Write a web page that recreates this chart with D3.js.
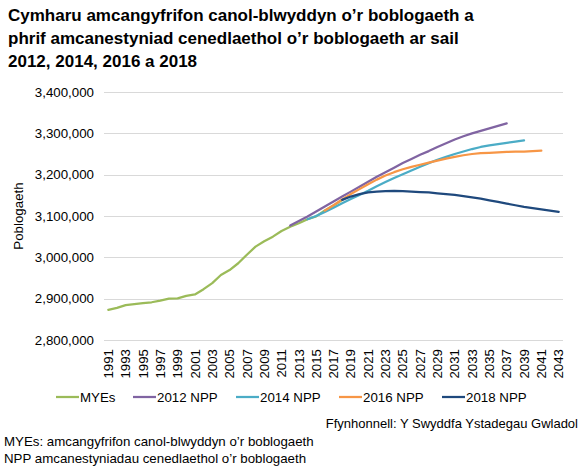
<!DOCTYPE html>
<html>
<head>
  <meta charset="utf-8">
  <title>Cymharu amcangyfrifon a amcanestyniadau poblogaeth</title>
  <script src="https://d3js.org/d3.v7.min.js"></script>
  <style>
    body {
      margin: 0;
      background: #fff;
      font-family: "Liberation Sans", Arial, sans-serif;
    }
    svg text {
      fill: #000;
    }
    .grid line {
      stroke: #d9d9d9;
      stroke-width: 1;
    }
  </style>
</head>
<body>
  <div id="chart"></div>

  <script>
    // years on the category axis
    const years = d3.range(1991, 2044);

    // mid-year estimates, from 1991
    const myeStart = 1991;
    const myeValues = [
      2873000, 2877700, 2884400, 2886800, 2889400, 2891300, 2895200, 2900100,
      2900600, 2906900, 2910200, 2922900, 2937600, 2957200, 2969300, 2985700,
      3006300, 3025900, 3038900, 3050000, 3063800, 3074100, 3082400, 3092000,
      3099100, 3113200, 3125200, 3138600
    ];

    // 2012-based projection, 2012 to 2037
    const npp2012Start = 2012;
    const npp2012Values = [
      3077000, 3088000, 3099000, 3111000, 3123000, 3135000, 3147000, 3159000,
      3171000, 3183000, 3195000, 3206000, 3217000, 3228000, 3238000, 3248000,
      3257000, 3267000, 3276000, 3285000, 3293000, 3300000, 3306000, 3312000,
      3318000, 3324000
    ];

    // 2014-based projection, 2014 to 2039
    const npp2014Start = 2014;
    const npp2014Values = [
      3092000, 3100000, 3110000, 3120000, 3131000, 3141000, 3151000, 3161000,
      3172000, 3182000, 3192000, 3201000, 3210000, 3219000, 3228000, 3236000,
      3243000, 3250000, 3256000, 3262000, 3267000, 3271000, 3274000, 3277000,
      3280000, 3283000
    ];

    // 2016-based projection, 2016 to 2041
    const npp2016Start = 2016;
    const npp2016Values = [
      3113000, 3126000, 3140000, 3153000, 3165000, 3177000, 3188000, 3198000,
      3206000, 3213000, 3219000, 3224000, 3229000, 3234000, 3239000, 3243000,
      3247000, 3250000, 3252000, 3253000, 3254000, 3255000, 3256000, 3256000,
      3257000, 3258000
    ];

    // 2018-based projection, 2018 to 2043
    const npp2018Start = 2018;
    const npp2018Values = [
      3139000, 3147000, 3153000, 3157000, 3159000, 3160000, 3161000, 3160000,
      3159000, 3158000, 3157000, 3155000, 3153000, 3151000, 3148000, 3145000,
      3142000, 3138000, 3134000, 3130000, 3126000, 3122000, 3119000, 3116000,
      3113000, 3110000
    ];

    const seriesNames = ["MYEs", "2012 NPP", "2014 NPP", "2016 NPP", "2018 NPP"];
    const seriesColors = ["#9bbb59", "#8064a2", "#4bacc6", "#f79646", "#1f497d"];
    const yTicks = [2800000, 2900000, 3000000, 3100000, 3200000, 3300000, 3400000];
    const titleLines = [
      "Cymharu amcangyfrifon canol-blwyddyn o\u2019r boblogaeth a",
      "phrif amcanestyniad cenedlaethol o\u2019r boblogaeth ar sail",
      "2012, 2014, 2016 a 2018"
    ];
    const footnotes = [
      "MYEs: amcangyfrifon canol-blwyddyn o\u2019r boblogaeth",
      "NPP amcanestyniadau cenedlaethol o\u2019r boblogaeth"
    ];

    const series = [
      [myeStart, myeValues],
      [npp2012Start, npp2012Values],
      [npp2014Start, npp2014Values],
      [npp2016Start, npp2016Values],
      [npp2018Start, npp2018Values]
    ].map(([start, vals], i) => ({
      name: seriesNames[i],
      color: seriesColors[i],
      points: vals.map((v, j) => ({ year: start + j, value: v }))
    }));

    const width = 584;
    const height = 471;
    const margin = { top: 92, right: 21, bottom: 131, left: 104 };

    const svg = d3.select("#chart")
      .append("svg")
      .attr("width", width)
      .attr("height", height)
      .style("font-family", '"Liberation Sans", Arial, sans-serif');

    const x = d3.scaleBand()
      .domain(years)
      .range([margin.left, width - margin.right])
      .padding(0);

    const y = d3.scaleLinear()
      .domain([2800000, 3400000])
      .range([height - margin.bottom, margin.top]);

    // title
    svg.append("text")
      .attr("font-weight", "bold")
      .style("font-size", "17px")
      .selectAll("tspan")
      .data(titleLines)
      .join("tspan")
      .attr("x", 8)
      .attr("y", (d, i) => 21 + i * 23)
      .text(d => d);

    // gridlines
    svg.append("g")
      .attr("class", "grid")
      .selectAll("line")
      .data(yTicks)
      .join("line")
      .attr("x1", margin.left)
      .attr("x2", width - margin.right)
      .attr("y1", d => Math.round(y(d)) + 0.5)
      .attr("y2", d => Math.round(y(d)) + 0.5);

    // y axis
    const yAxis = svg.append("g")
      .attr("transform", `translate(${margin.left - 10},0)`)
      .call(d3.axisLeft(y).tickValues(yTicks).tickSize(0).tickPadding(0)
        .tickFormat(d3.format(",")));
    yAxis.select(".domain").remove();
    yAxis.selectAll("text")
      .style("font-size", "13.3px")
      .style("font-family", '"Liberation Sans", Arial, sans-serif')
      .attr("fill", "#000");

    svg.append("text")
      .attr("transform", `translate(23,${(margin.top + height - margin.bottom) / 2}) rotate(-90)`)
      .attr("text-anchor", "middle")
      .style("font-size", "13.3px")
      .text("Poblogaeth");

    // x axis
    const xAxis = svg.append("g")
      .attr("transform", `translate(0,${height - margin.bottom})`)
      .call(d3.axisBottom(x).tickSize(0).tickValues(years.filter(d => (d - 1991) % 2 === 0)));
    xAxis.select(".domain").remove();
    xAxis.selectAll("text")
      .style("font-size", "13.3px")
      .style("font-family", '"Liberation Sans", Arial, sans-serif')
      .attr("fill", "#000")
      .attr("text-anchor", "end")
      .attr("transform", "rotate(-90)")
      .attr("x", -9)
      .attr("y", 0)
      .attr("dy", "0.35em");

    // lines
    const line = d3.line()
      .x(d => x(d.year) + x.bandwidth() / 2)
      .y(d => y(d.value));

    svg.append("g")
      .selectAll("path")
      .data(series)
      .join("path")
      .attr("fill", "none")
      .attr("stroke", d => d.color)
      .attr("stroke-width", 2.25)
      .attr("stroke-linejoin", "round")
      .attr("stroke-linecap", "round")
      .attr("d", d => line(d.points));

    // legend
    const legendX = [56, 133, 236, 339, 442];
    const legend = svg.append("g")
      .selectAll("g")
      .data(series)
      .join("g")
      .attr("transform", (d, i) => `translate(${legendX[i]},397)`);
    legend.append("line")
      .attr("x1", 0)
      .attr("x2", 23)
      .attr("stroke", d => d.color)
      .attr("stroke-width", 2.25);
    legend.append("text")
      .attr("x", 24)
      .attr("dy", "0.35em")
      .style("font-size", "13.3px")
      .text(d => d.name);

    // source and notes
    svg.append("text")
      .attr("x", 578)
      .attr("y", 428)
      .attr("text-anchor", "end")
      .style("font-size", "13px")
      .text("Ffynhonnell: Y Swyddfa Ystadegau Gwladol");

    svg.append("g")
      .selectAll("text")
      .data(footnotes)
      .join("text")
      .attr("x", 4)
      .attr("y", (d, i) => 446 + i * 17)
      .style("font-size", "13.3px")
      .text(d => d);
  </script>
</body>
</html>
